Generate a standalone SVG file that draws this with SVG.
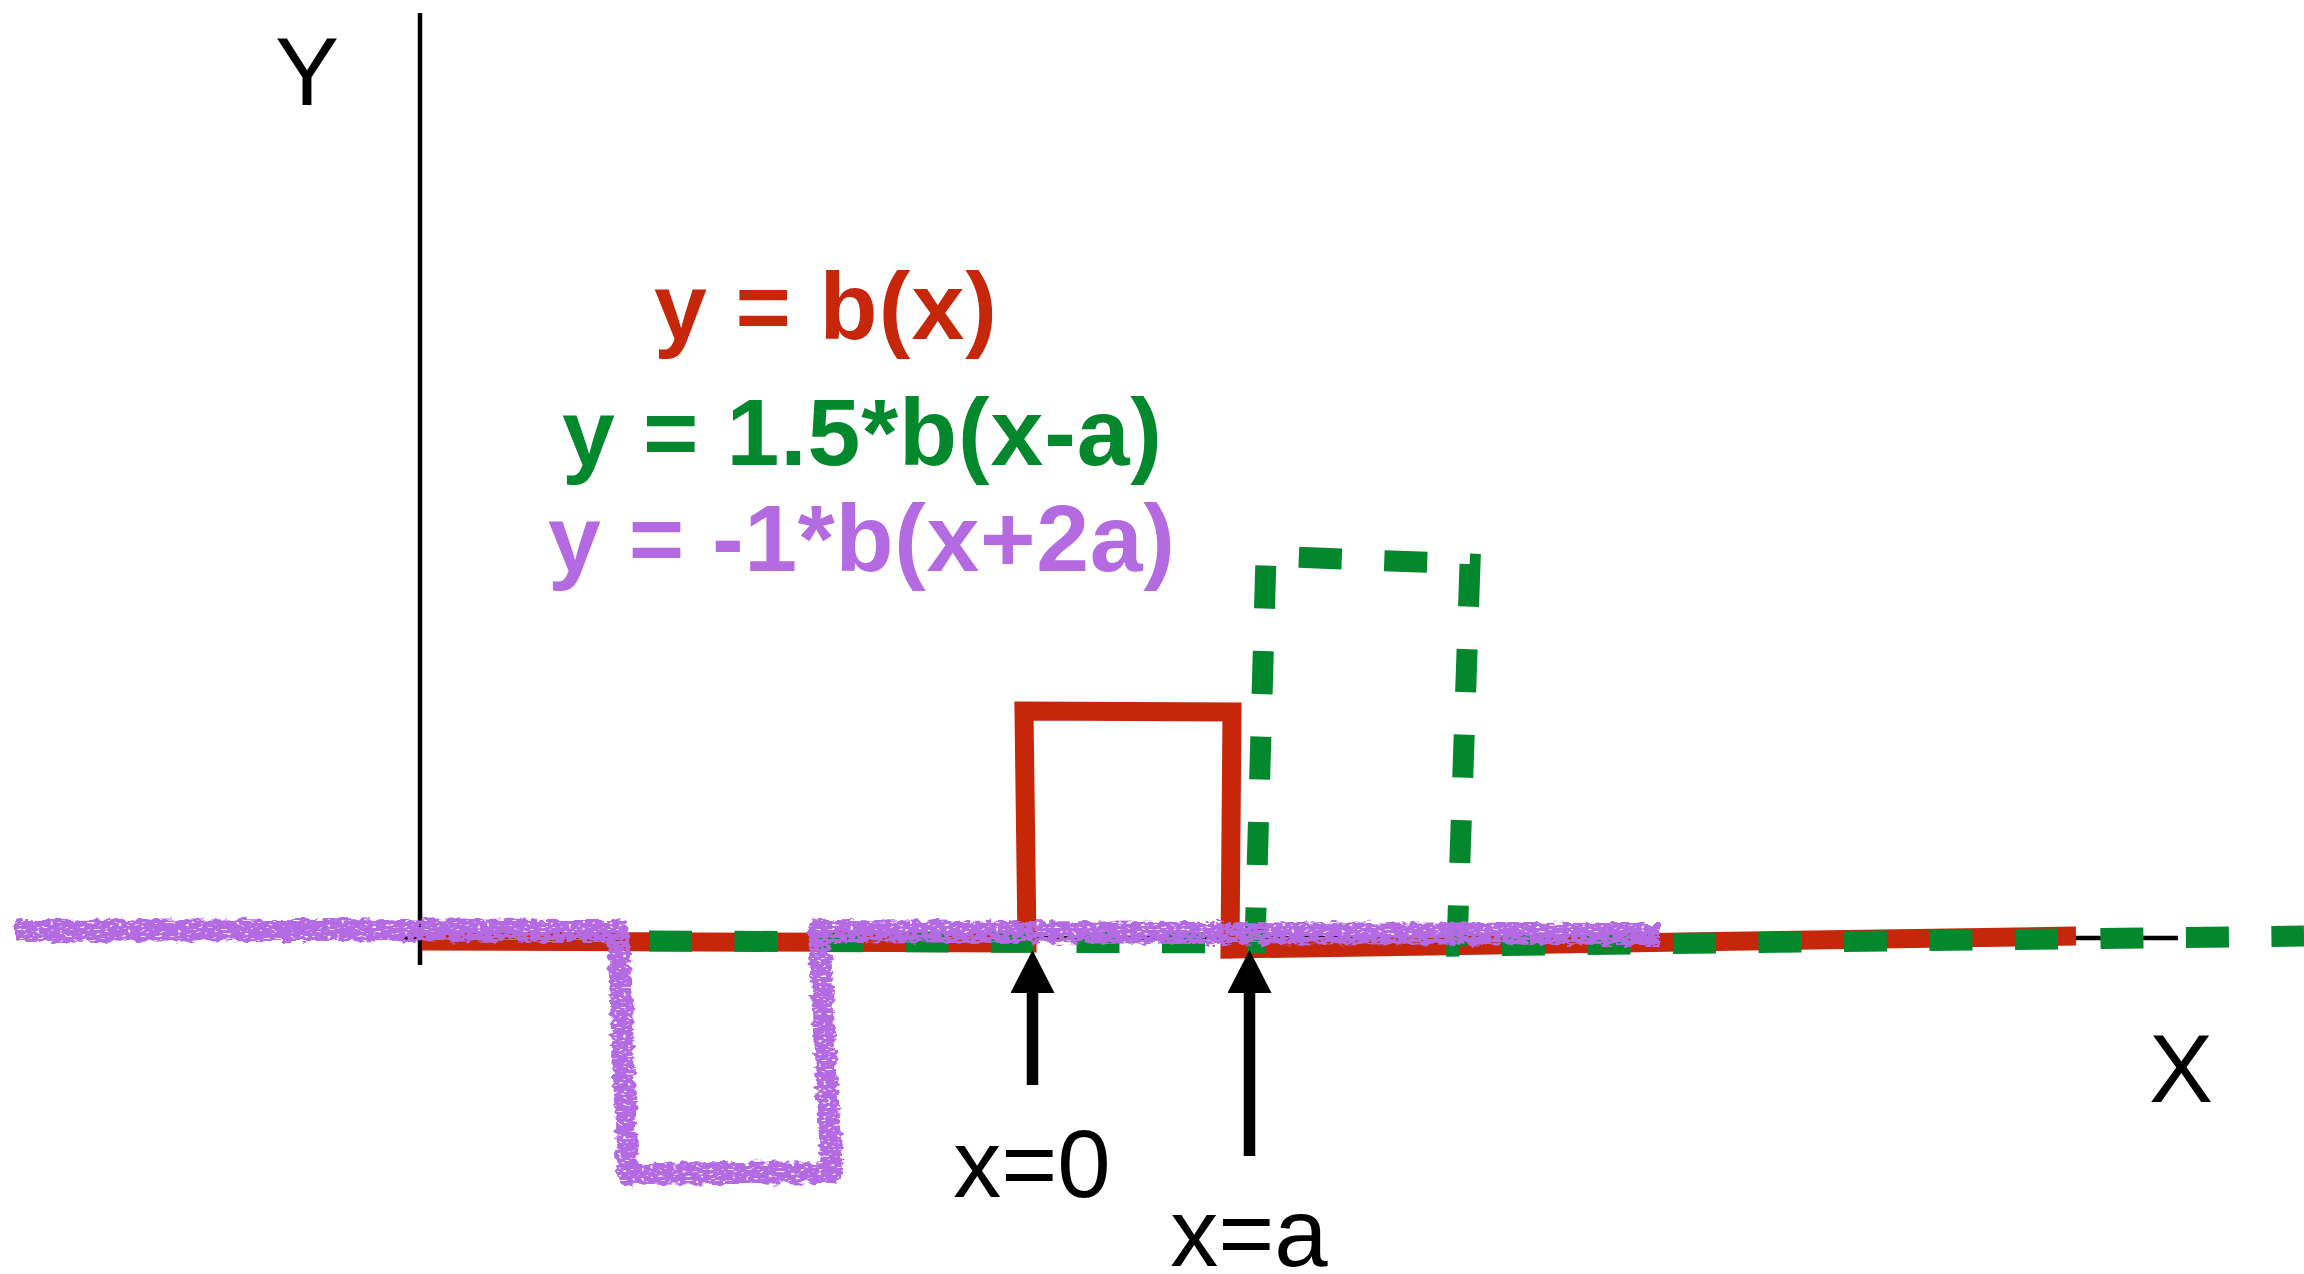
<svg xmlns="http://www.w3.org/2000/svg" width="2304" height="1274" viewBox="0 0 2304 1274">
<defs>
<style>
.axis{stroke:#000;stroke-width:4.5;fill:none}
.lbl{font-family:"Liberation Sans",Arial,sans-serif;font-size:96px;fill:#000;text-anchor:middle}
.eq{font-family:"Liberation Sans",Arial,sans-serif;font-weight:bold;font-size:95px}
.red{fill:none;stroke:#C62609;stroke-width:19;stroke-linejoin:miter}
.green{fill:none;stroke:#03882D;stroke-width:21;stroke-dasharray:43 42.5;stroke-linejoin:miter}
.purple{fill:none;stroke:#B46BE2;stroke-width:22;stroke-linejoin:round;filter:url(#chalk)}
.arrow{stroke:#000;stroke-width:11.5;fill:none;marker-end:url(#head)}
</style>
<marker id="head" markerUnits="userSpaceOnUse" markerWidth="44" markerHeight="44" refX="0" refY="22" orient="auto" viewBox="0 0 44 44">
<path d="M0,0 L43,22 L0,44 Z" fill="#000"/>
</marker>
<filter id="chalk" filterUnits="userSpaceOnUse" x="0" y="880" width="1720" height="340">
<feTurbulence type="fractalNoise" baseFrequency="0.1 0.18" numOctaves="2" seed="3" result="n"/>
<feDisplacementMap in="SourceGraphic" in2="n" scale="10" xChannelSelector="R" yChannelSelector="G" result="d"/>
<feTurbulence type="fractalNoise" baseFrequency="0.22 0.45" numOctaves="1" seed="7" result="n2"/>
<feColorMatrix in="n2" type="matrix" values="0 0 0 0 0  0 0 0 0 0  0 0 0 0 0  0 0 0 -9 6.6" result="holes"/>
<feComposite in="d" in2="holes" operator="in"/>
</filter>
</defs>
<rect width="2304" height="1274" fill="#fff"/>
<g id="axes">
<line class="axis" x1="420" y1="13" x2="420" y2="965"/>
<line class="axis" x1="398" y1="938" x2="2178" y2="938"/>
<text id="label-y" class="lbl" x="307" y="105">Y</text>
<text id="label-x" class="lbl" x="2181" y="1102">X</text>
</g>
<g id="curves">
<path id="curve-red" class="red" d="M422 941 L1027 943 L1024 711 L1232 712 L1230 949 L2076 936"/>
<path id="curve-green" class="green" d="M649 941 L1255 943 L1266 556 L1470 564 L1457 946 L2304 936"/>
<path id="curve-purple" class="purple" d="M15 931 L300 930 L618 931 L623 1050 L628 1174 L730 1173 L832 1172 L825 1050 L819 931 L1200 933 L1660 934"/>
</g>
<g id="connectors">
<line class="arrow" x1="1032.5" y1="1085" x2="1032.5" y2="993"/>
<line class="arrow" x1="1249.5" y1="1156" x2="1249.5" y2="993"/>
</g>
<g id="legend">
<text id="eq-red" class="eq" x="654" y="339" fill="#C62609" textLength="343" lengthAdjust="spacing">y = b(x)</text>
<text id="eq-green" class="eq" x="562" y="465" fill="#03882D" textLength="600" lengthAdjust="spacing">y = 1.5*b(x-a)</text>
<text id="eq-purple" class="eq" x="548" y="571" fill="#B46BE2" textLength="627" lengthAdjust="spacing">y = -1*b(x+2a)</text>
</g>
<g id="marks">
<text id="label-x0" class="lbl" x="1032" y="1197">x=0</text>
<text id="label-xa" class="lbl" x="1249" y="1266">x=a</text>
</g>
</svg>
